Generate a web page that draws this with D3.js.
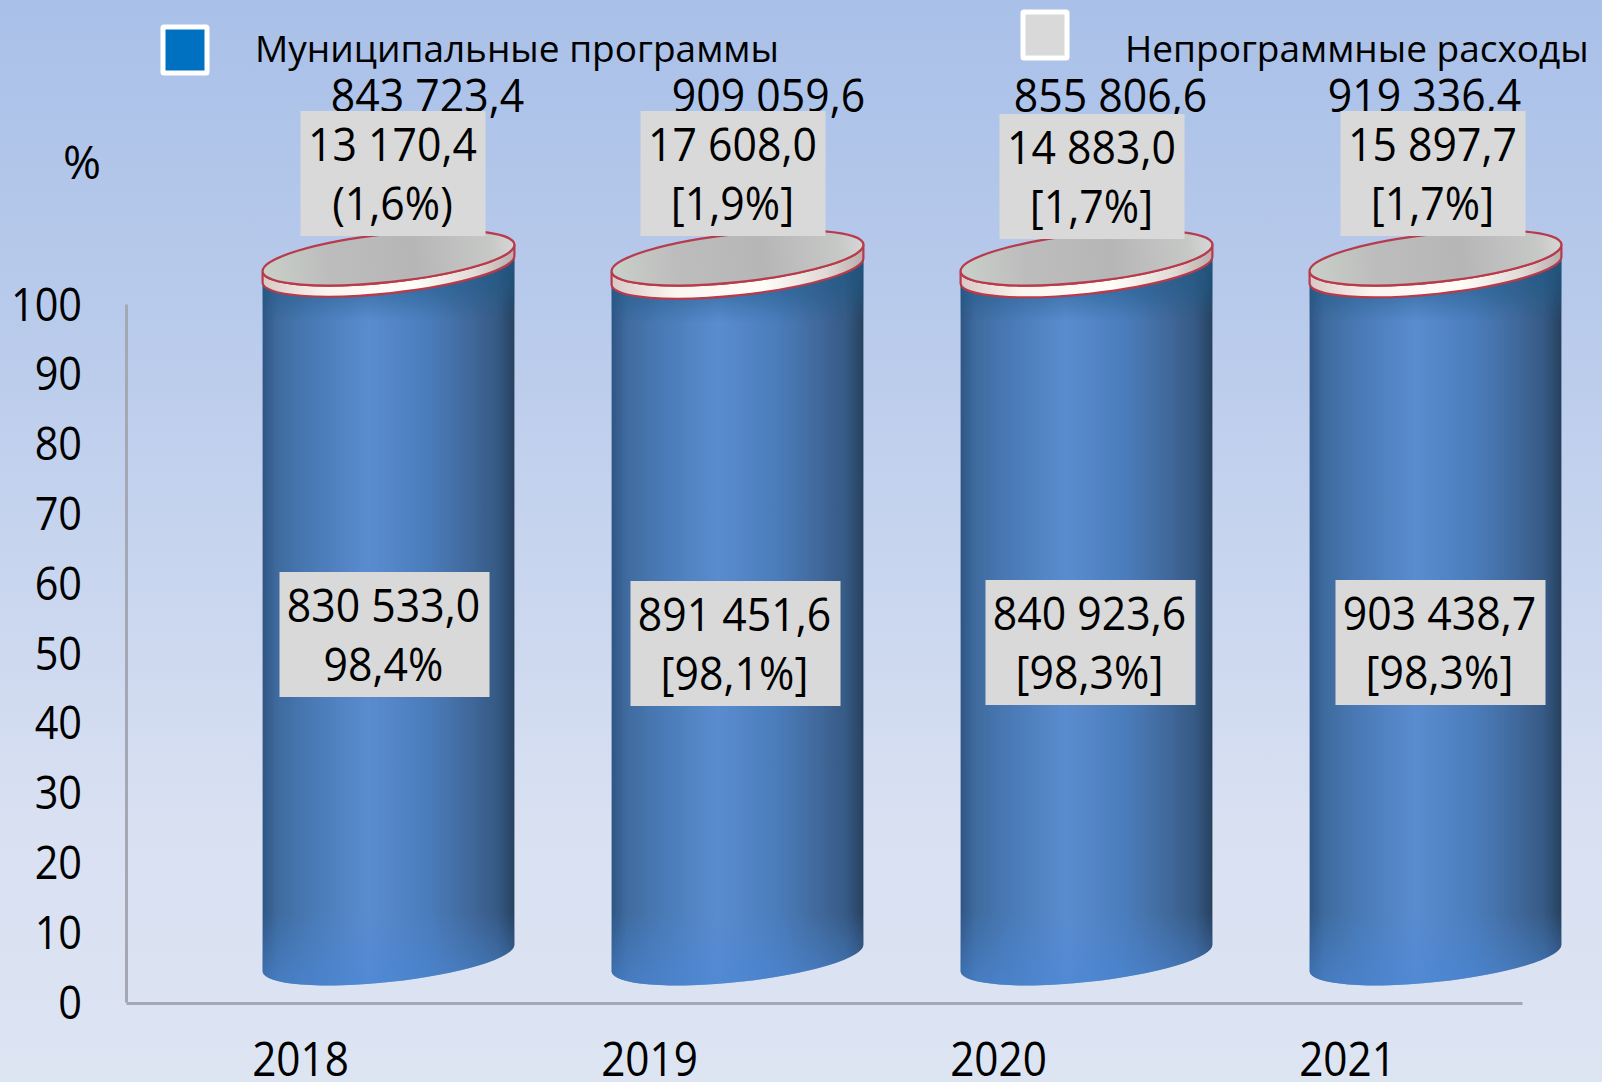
<!DOCTYPE html>
<html>
<head>
<meta charset="utf-8">
<script src="https://cdn.jsdelivr.net/npm/d3@7"></script>
<style>
html, body { margin: 0; padding: 0; background: #dce4f3; }
svg { display: block; }
text { font-family: "Open Sans", sans-serif; fill: #000; }
</style>
</head>
<body>
<svg id="chart" width="1602" height="1082"></svg>
<script>
// data
var years = ["2018", "2019", "2020", "2021"]
var totals = [843723.4, 909059.6, 855806.6, 919336.4]
var progValues = [830533.0, 891451.6, 840923.6, 903438.7]
var nonProgValues = [13170.4, 17608.0, 14883.0, 15897.7]
var progShares = [98.4, 98.1, 98.3, 98.3]
var progShareLabels = ["98,4%", "[98,1%]", "[98,3%]", "[98,3%]"]
var nonProgShareLabels = ["(1,6%)", "[1,9%]", "[1,7%]", "[1,7%]"]
var yTicks = [0, 10, 20, 30, 40, 50, 60, 70, 80, 90, 100]
var seriesNames = ["Муниципальные программы", "Непрограммные расходы"]

// label box offsets, one per year
var topBoxY = [111, 111, 114, 111]
var topBoxDx = [-88, -97, -87, -95]
var midBoxY = [572, 581, 580, 580]
var midBoxDx = [-109, -107, -101, -100]
var totalDx = [39, 31, 24, -11]

var width = 1602
var height = 1082
var svg = d3.select("#chart")
var defs = svg.append("defs")

var fmt = d3.formatLocale({ decimal: ",", thousands: "\u00a0", grouping: [3], currency: ["", ""] }).format(",.1f")

// 背景
var bg = defs.append("linearGradient").attr("id", "bg").attr("x1", 0).attr("x2", 0).attr("y1", 0).attr("y2", 1)
bg.append("stop").attr("offset", "0%").attr("stop-color", "#a9c0e8")
bg.append("stop").attr("offset", "35%").attr("stop-color", "#bccdec")
bg.append("stop").attr("offset", "75%").attr("stop-color", "#d8e0f2")
bg.append("stop").attr("offset", "100%").attr("stop-color", "#dde5f3")
svg.append("rect").attr("width", width).attr("height", height).attr("fill", "url(#bg)")

function addStops(id, stops, vertical) {
    var g = defs.append("linearGradient").attr("id", id)
    if (vertical) g.attr("x1", 0).attr("x2", 0).attr("y1", 0).attr("y2", 1)
    stops.forEach(function (s) {
        g.append("stop").attr("offset", s[0]).attr("stop-color", s[1]).attr("stop-opacity", s[2] === undefined ? 1 : s[2])
    })
}
addStops("body", [["0%", "#2f5684"], ["6%", "#3f6b9f"], ["20%", "#4a7ab6"], ["42%", "#5a8ccf"], ["65%", "#4b7dbc"], ["82%", "#41699c"], ["93%", "#365a85"], ["100%", "#27415f"]])
addStops("bodyShade", [["0%", "#1f5a86", 0.75], ["5%", "#1f5a86", 0.45], ["9%", "#1f5a86", 0], ["90%", "#4a88d8", 0], ["99%", "#4a88d8", 0.55], ["100%", "#4a88d8", 0.55]], true)
addStops("band", [["0%", "#d9c9c6"], ["25%", "#fbf5f0"], ["60%", "#fffdf8"], ["85%", "#e0d8d4"], ["100%", "#b9aeae"]])
addStops("lid", [["0%", "#c9d0c9"], ["25%", "#bdbdbd"], ["60%", "#b6b6b6"], ["90%", "#c6c8c6"], ["100%", "#d6d6d6"]])

var soft = defs.append("filter").attr("id", "soft")
soft.append("feGaussianBlur").attr("stdDeviation", 0.6)

// 比例尺
var xScale = d3.scaleBand().domain(years).range([126, 1522]).paddingInner(0.28).paddingOuter(0.14)
var yScale = d3.scaleLinear().domain([0, 100]).range([1002, 304])
// cylinders are drawn in perspective, so they get their own vertical scale
var cylScale = d3.scaleLinear().domain([0, 100]).range([958, 258])

var cylShift = 88
var rx = xScale.bandwidth() / 2 + 1
var ry = 24
var tilt = -6.2
var dx = rx * Math.cos(tilt * Math.PI / 180)
var dy = rx * Math.sin(tilt * Math.PI / 180)

function cx(year) {
    return xScale(year) + xScale.bandwidth() / 2 + cylShift
}

// body between two heights, bottom edge follows the front of the ellipse
function sidePath(x, yTop, yBottom) {
    return "M" + (x - dx) + "," + (yTop - dy)
        + "L" + (x - dx) + "," + (yBottom - dy)
        + "A" + rx + "," + ry + "," + tilt + ",0,0," + (x + dx) + "," + (yBottom + dy)
        + "L" + (x + dx) + "," + (yTop + dy)
        + "A" + rx + "," + ry + "," + tilt + ",0,1," + (x - dx) + "," + (yTop - dy) + "Z"
}

// 绘制坐标轴
var yAxis = d3.axisLeft(yScale).tickValues(yTicks).tickSize(0).tickPadding(44)
var xAxis = d3.axisBottom(xScale).tickSize(0).tickPadding(39)
var yAxisG = svg.append("g").attr("class", "yAxis").attr("transform", "translate(126,0)").call(yAxis)
var xAxisG = svg.append("g").attr("class", "xAxis").attr("transform", "translate(0,1003)").call(xAxis)
svg.selectAll(".yAxis .domain, .xAxis .domain").attr("stroke", "#a3a8b4").attr("stroke-width", 3)
yAxisG.selectAll("text").style("font-size", "46px").attr("dy", "0.35em")
xAxisG.selectAll("text").style("font-size", "47px").attr("dy", "0.72em")

// 绘制圆柱
var cyl = svg.selectAll(".cyl").data(years).enter().append("g").attr("class", "cyl").attr("filter", "url(#soft)")

cyl.append("path")
    .attr("fill", "url(#body)")
    .attr("d", function (d, i) { return sidePath(cx(d), cylScale(progShares[i]), cylScale(0)) })

cyl.append("path")
    .attr("fill", "url(#bodyShade)")
    .attr("d", function (d, i) { return sidePath(cx(d), cylScale(progShares[i]), cylScale(0)) })

cyl.append("path")
    .attr("fill", "url(#band)")
    .attr("stroke", "#b83a4c")
    .attr("stroke-width", 2.2)
    .attr("d", function (d, i) { return sidePath(cx(d), cylScale(100), cylScale(progShares[i])) })

cyl.append("ellipse")
    .attr("rx", rx)
    .attr("ry", ry)
    .attr("transform", function (d) { return "translate(" + cx(d) + "," + cylScale(100) + ") rotate(" + tilt + ")" })
    .attr("fill", "url(#lid)")
    .attr("stroke", "#b83a4c")
    .attr("stroke-width", 2.2)

// 数据标签
function labelBox(year, boxX, boxY, w, h, line1, line2, lineX) {
    svg.append("rect").attr("class", "labelBox")
        .attr("x", boxX).attr("y", boxY).attr("width", w).attr("height", h)
        .attr("fill", "#d9d9d9")
    svg.append("text").attr("class", "lbl").attr("x", lineX).attr("y", boxY + 50)
        .attr("text-anchor", "middle").text(line1)
    svg.append("text").attr("class", "lbl").attr("x", lineX).attr("y", boxY + 109)
        .attr("text-anchor", "middle").text(line2)
}

years.forEach(function (year, i) {
    var c = xScale(year) + xScale.bandwidth() / 2
    svg.append("text").attr("class", "lbl total")
        .attr("x", c + cylShift + totalDx[i]).attr("y", 112)
        .attr("text-anchor", "middle").text(fmt(totals[i]))

    var topX = c + cylShift + topBoxDx[i]
    labelBox(year, topX, topBoxY[i], 185, 125, fmt(nonProgValues[i]), nonProgShareLabels[i], topX + 92)

    var midX = c + cylShift + midBoxDx[i]
    labelBox(year, midX, midBoxY[i], 210, 125, fmt(progValues[i]), progShareLabels[i], midX + 104)
})
svg.selectAll(".lbl").style("font-size", "46px")

svg.append("text").attr("x", 82).attr("y", 179).attr("text-anchor", "middle").style("font-size", "46px").text("%")

// 图例
var legendX = [163, 1023]
var legendY = [27, 12]
var legendColors = ["#0070c0", "#d9d9d9"]
var legendTextX = [255, 1125]
seriesNames.forEach(function (name, i) {
    svg.append("rect")
        .attr("x", legendX[i]).attr("y", legendY[i]).attr("width", 44).attr("height", 46)
        .attr("fill", legendColors[i])
        .attr("stroke", "#fff").attr("stroke-width", 5).attr("rx", 1)
    svg.append("text").attr("class", "legendText")
        .attr("x", legendTextX[i]).attr("y", 62)
        .style("font-size", "37px").text(name)
})

// the source font is narrower than anything installed
function squeeze(sel, k) {
    sel.each(function () {
        this.setAttribute("textLength", this.getComputedTextLength() * k)
        this.setAttribute("lengthAdjust", "spacingAndGlyphs")
    })
}
squeeze(svg.selectAll(".lbl"), 0.93)
squeeze(yAxisG.selectAll("text"), 0.9)
squeeze(xAxisG.selectAll("text"), 0.9)
</script>
</body>
</html>
